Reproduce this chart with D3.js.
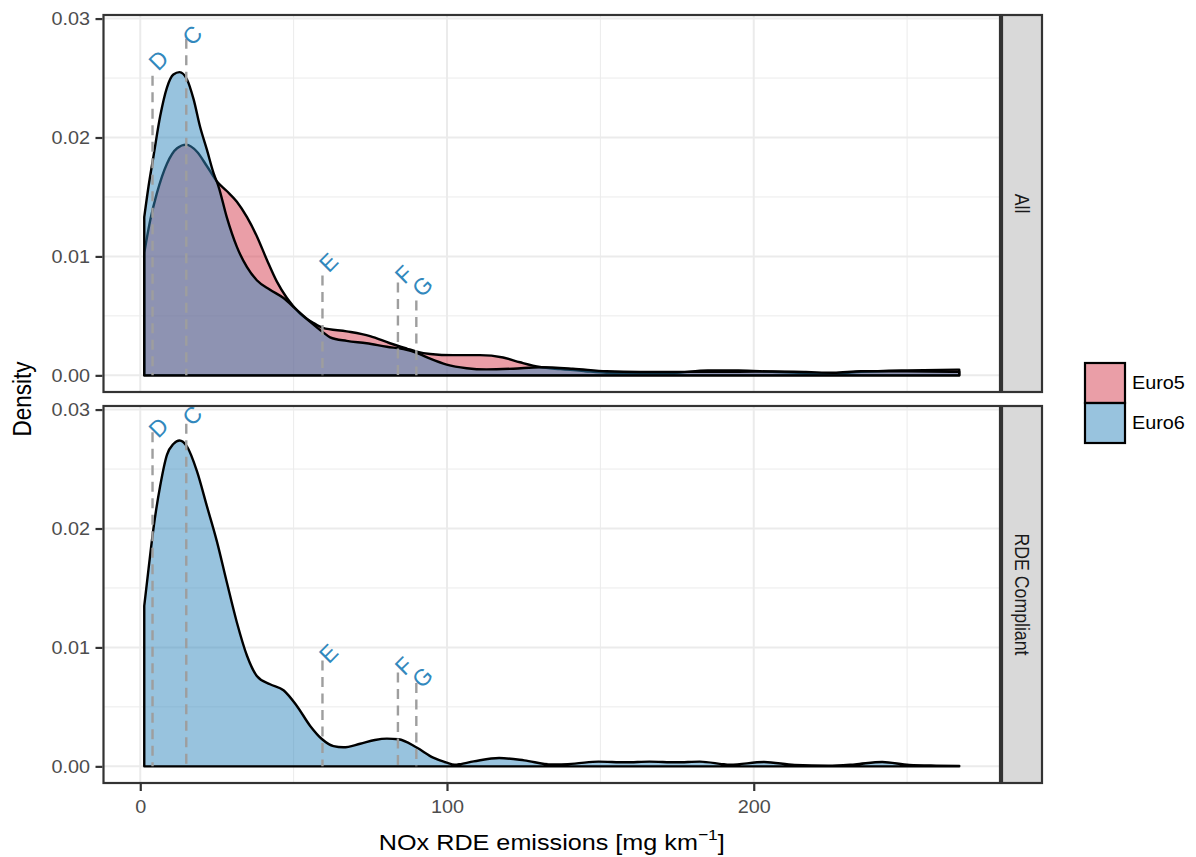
<!DOCTYPE html>
<html>
<head>
<meta charset="utf-8">
<script src="https://cdn.jsdelivr.net/npm/d3@7"></script>
<style>
  body { margin: 0; background: #ffffff; }
  svg text { font-family: "Liberation Sans", Arial, Helvetica, sans-serif; }
</style>
</head>
<body>
<svg id="chart" width="1196" height="857"></svg>
<script>
// ---- data -------------------------------------------------------------
const facets = ["All", "RDE Compliant"];
const groups = ["Euro5", "Euro6"];
const groupColors = ["#d53e4f", "#3288bd"];
const xTicks = [0, 100, 200];
const xMinorTicks = [50, 150, 250];
const yTicks = [0, 0.01, 0.02, 0.03];
const yMinorTicks = [0.005, 0.015, 0.025];
const yLimits = [-0.0014, 0.0303];

// density estimates, [NOx mg/km, density]
const allEuro5 = [
  [1.3, 0.0103], [3.3, 0.0131], [5.4, 0.0153], [8.7, 0.0178], [12.0, 0.0191],
  [15.0, 0.0194], [18.5, 0.0188], [21.7, 0.0176], [25.0, 0.0163], [28.2, 0.0155],
  [31.5, 0.0146], [34.8, 0.0133], [38.0, 0.0117], [41.3, 0.0097], [44.5, 0.0079],
  [47.8, 0.0065], [52.1, 0.0052], [56.5, 0.0044], [59.5, 0.0040], [67.3, 0.0037],
  [74.9, 0.0033], [81.4, 0.0027], [86.9, 0.00225], [90.1, 0.0020], [94.5, 0.0018],
  [102, 0.0017], [110.7, 0.0017], [118.3, 0.0015], [123.8, 0.0011], [130.3, 0.0007],
  [137, 0.00052], [145, 0.00035], [152, 0.00022], [163, 0.00016], [174, 0.0002],
  [185, 0.00042], [195, 0.00042], [206, 0.0003], [217, 0.0002], [226, 0.00015],
  [235, 0.0003], [250, 0.00042], [267, 0.00048]
];
const allEuro6 = [
  [1.3, 0.0133], [2.7, 0.0159], [4.3, 0.0184], [6.5, 0.0218], [8.7, 0.0242],
  [10.8, 0.0253], [12.8, 0.0255], [15.2, 0.0249], [17.4, 0.0232], [19.5, 0.0209],
  [21.7, 0.0190], [23.9, 0.0170], [25.5, 0.0159], [28.2, 0.0133], [31.5, 0.0108],
  [34.8, 0.0091], [38.0, 0.0080], [42.3, 0.0072], [46.7, 0.0065], [51.0, 0.0055],
  [55.4, 0.0045], [59.2, 0.0037], [61.9, 0.0032], [67.3, 0.0029], [73.8, 0.0027],
  [80.4, 0.0024], [85.8, 0.0022], [90.1, 0.0019], [94.5, 0.0014], [99.9, 0.0009],
  [106.4, 0.0006], [112.9, 0.0005], [121.6, 0.00056], [130.3, 0.00068], [141, 0.00056],
  [152, 0.00034], [163, 0.00028], [174, 0.00028], [185, 0.0003], [195, 0.0003],
  [206, 0.00032], [217, 0.00028], [226, 0.00022], [235, 0.00035], [250, 0.00035],
  [267, 0.0003]
];
const rdeEuro6 = [
  [1.3, 0.0135], [2.7, 0.0166], [4.3, 0.0200], [6.5, 0.0236], [8.7, 0.0262],
  [10.8, 0.0271], [12.8, 0.0274], [15.2, 0.0269], [18.5, 0.0248], [21.7, 0.0219],
  [25.0, 0.0189], [28.2, 0.0155], [31.5, 0.0121], [34.8, 0.0093], [38.0, 0.0076],
  [42.3, 0.0069], [46.7, 0.0064], [51.0, 0.0051], [55.4, 0.0034], [59.2, 0.0023],
  [63.0, 0.0017], [66.2, 0.0016], [71.7, 0.0019], [76.5, 0.00222], [80.4, 0.00233],
  [84.2, 0.00228], [90.1, 0.00158], [95.5, 0.00073], [99.9, 0.00031], [102.5, 0.00014],
  [108.7, 0.00042], [117, 0.0007], [125.2, 0.0005], [134, 0.00015], [141.7, 0.00023],
  [149.4, 0.0004], [158.2, 0.00034], [166, 0.0004], [174.7, 0.00034], [182.4, 0.0004],
  [192.3, 0.00014], [203.4, 0.00037], [213.3, 0.00011], [224.3, 0.00005], [233, 0.00017],
  [241.9, 0.00037], [250.7, 0.00011], [259.5, 0.00006], [267, 0.00004]
];

// marked vehicles
const markerNames = ["D", "C", "E", "F", "G"];
const markerX = [4, 15, 59.4, 84, 90];
const allMarkerTop = [0.0252, 0.0283, 0.0084, 0.0078, 0.0063];
const allMarkerText = [0.0265, 0.0286, 0.0095, 0.0085, 0.0075];
const rdeMarkerTop = [0.0281, 0.0288, 0.0089, 0.0079, 0.0070];
const rdeMarkerText = [0.0285, 0.0295, 0.0095, 0.00845, 0.0075];

// ---- layout -----------------------------------------------------------
const SX = 1.12;                 // horizontal glyph stretch
const tickFont = 17.7, titleFont = 22.5, markFont = 23;
const panelLeft = 103.5, panelRight = 1000;
const panelBoxes = [{ top: 15, bottom: 392 }, { top: 406, bottom: 783 }];
const stripLeft = 1002, stripRight = 1042;

const facetData = [
  { name: facets[0], series: [{ g: 0, values: allEuro5 }, { g: 1, values: allEuro6 }],
    top: allMarkerTop, text: allMarkerText },
  { name: facets[1], series: [{ g: 1, values: rdeEuro6 }],
    top: rdeMarkerTop, text: rdeMarkerText }
];

const svg = d3.select("#chart");

const allX = [allEuro5, allEuro6, rdeEuro6].flat().map(d => d[0]);
const xLo = d3.min(allX), xHi = d3.max(allX), xPad = 0.05 * (xHi - xLo);
const x = d3.scaleLinear().domain([xLo - xPad, xHi + xPad]).range([panelLeft, panelRight]);

facetData.forEach((f, i) => {
  const box = panelBoxes[i];
  const y = d3.scaleLinear().domain(yLimits).range([box.bottom, box.top]);
  const g = svg.append("g");

  g.append("rect").attr("x", panelLeft).attr("y", box.top)
    .attr("width", panelRight - panelLeft).attr("height", box.bottom - box.top)
    .attr("fill", "#ffffff");

  // grid
  g.selectAll(".vminor").data(xMinorTicks).join("line")
    .attr("x1", d => x(d)).attr("x2", d => x(d)).attr("y1", box.top).attr("y2", box.bottom)
    .attr("stroke", "#ebebeb").attr("stroke-width", 1);
  g.selectAll(".hminor").data(yMinorTicks).join("line")
    .attr("y1", d => y(d)).attr("y2", d => y(d)).attr("x1", panelLeft).attr("x2", panelRight)
    .attr("stroke", "#ebebeb").attr("stroke-width", 1);
  g.selectAll(".vmajor").data(xTicks).join("line")
    .attr("x1", d => x(d)).attr("x2", d => x(d)).attr("y1", box.top).attr("y2", box.bottom)
    .attr("stroke", "#ebebeb").attr("stroke-width", 2);
  g.selectAll(".hmajor").data(yTicks).join("line")
    .attr("y1", d => y(d)).attr("y2", d => y(d)).attr("x1", panelLeft).attr("x2", panelRight)
    .attr("stroke", "#ebebeb").attr("stroke-width", 2);

  // densities
  const area = d3.area()
    .x(d => x(d[0])).y0(y(0)).y1(d => y(d[1]))
    .curve(d3.curveMonotoneX);
  f.series.forEach(s => {
    g.append("path").attr("d", area(s.values))
      .attr("fill", groupColors[s.g]).attr("fill-opacity", 0.5)
      .attr("stroke", "#000000").attr("stroke-width", 2.4)
      .attr("stroke-linejoin", "round");
  });

  // marked vehicles
  markerNames.forEach((m, k) => {
    g.append("line")
      .attr("x1", x(markerX[k])).attr("x2", x(markerX[k]))
      .attr("y1", y(f.top[k])).attr("y2", y(0))
      .attr("stroke", "#9e9e9e").attr("stroke-width", 2.4)
      .attr("stroke-dasharray", "10,6.5");
    g.append("text")
      .attr("transform", `translate(${x(markerX[k]) + 6},${y(f.text[k])}) rotate(-45)`)
      .attr("text-anchor", "middle").attr("dominant-baseline", "central")
      .attr("font-size", markFont).attr("fill", "#3288bd")
      .text(m);
  });

  // border
  g.append("rect").attr("x", panelLeft).attr("y", box.top)
    .attr("width", panelRight - panelLeft).attr("height", box.bottom - box.top)
    .attr("fill", "none").attr("stroke", "#333333").attr("stroke-width", 2.2);

  // strip
  g.append("rect").attr("x", stripLeft).attr("y", box.top)
    .attr("width", stripRight - stripLeft).attr("height", box.bottom - box.top)
    .attr("fill", "#d9d9d9").attr("stroke", "#333333").attr("stroke-width", 2.2);
  g.append("text")
    .attr("transform", `translate(${(stripLeft + stripRight) / 2},${(box.top + box.bottom) / 2}) scale(${SX},1) rotate(90)`)
    .attr("text-anchor", "middle").attr("dominant-baseline", "central")
    .attr("font-size", tickFont).attr("fill", "#1a1a1a")
    .text(f.name);

  // y axis
  const yAxis = d3.axisLeft(y).tickValues(yTicks).tickFormat(d3.format(".2f"))
    .tickSize(7).tickPadding(5);
  const ya = svg.append("g").attr("transform", `translate(${panelLeft - 1},0)`).call(yAxis);
  ya.select(".domain").remove();
  ya.selectAll(".tick line").attr("stroke", "#333333").attr("stroke-width", 2.2);
  ya.selectAll(".tick text")
    .attr("x", null).attr("dy", null)
    .attr("transform", `translate(-12.5,0) scale(${SX},1)`)
    .attr("dominant-baseline", "central")
    .attr("font-size", tickFont).attr("fill", "#4d4d4d")
    .style("font-family", null);

  if (i === facetData.length - 1) {
    const xAxis = d3.axisBottom(x).tickValues(xTicks).tickFormat(d3.format("d"))
      .tickSize(7).tickPadding(9);
    const xa = svg.append("g").attr("transform", `translate(0,${box.bottom + 1})`).call(xAxis);
    xa.select(".domain").remove();
    xa.selectAll(".tick line").attr("stroke", "#333333").attr("stroke-width", 2.2);
    xa.selectAll(".tick text")
      .attr("y", null).attr("dy", null)
      .attr("transform", `translate(0,29) scale(${SX},1)`)
      .attr("font-size", tickFont).attr("fill", "#4d4d4d")
      .style("font-family", null);
  }
});

// axis titles
const xTitle = svg.append("text")
  .attr("transform", `translate(${(panelLeft + panelRight) / 2},850) scale(${SX},1)`)
  .attr("text-anchor", "middle").attr("font-size", titleFont).attr("fill", "#000000");
xTitle.append("tspan").text("NOx RDE emissions [mg km");
xTitle.append("tspan").attr("font-size", 15.5).attr("dy", -10).text("\u22121");
xTitle.append("tspan").attr("dy", 10).text("]");

svg.append("text")
  .attr("transform", `translate(31,${(panelBoxes[0].top + panelBoxes[1].bottom) / 2}) scale(${SX},1) rotate(-90)`)
  .attr("text-anchor", "middle").attr("font-size", titleFont).attr("fill", "#000000")
  .text("Density");

// legend
const legend = svg.append("g").attr("transform", "translate(1085,363)");
groups.forEach((name, k) => {
  legend.append("rect").attr("x", 0).attr("y", k * 40).attr("width", 40).attr("height", 40)
    .attr("fill", groupColors[k]).attr("fill-opacity", 0.5)
    .attr("stroke", "#000000").attr("stroke-width", 2.2);
  legend.append("text")
    .attr("transform", `translate(47,${k * 40 + 20}) scale(${SX},1)`)
    .attr("dominant-baseline", "central")
    .attr("font-size", tickFont).attr("fill", "#000000")
    .text(name);
});
</script>
</body>
</html>
